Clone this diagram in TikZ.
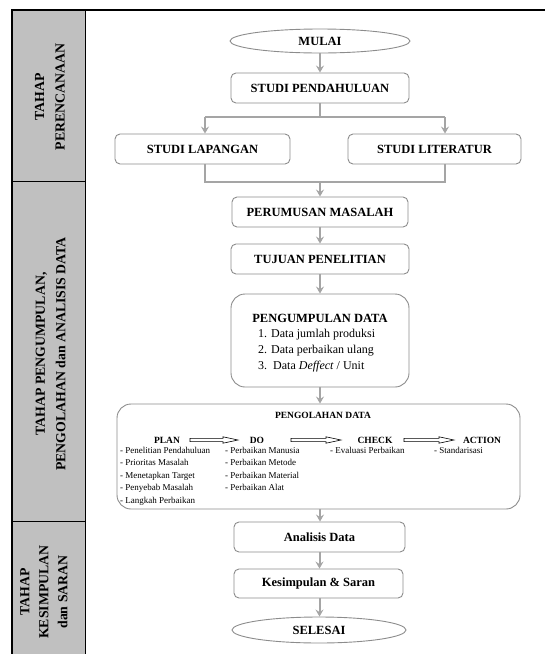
\documentclass[tikz,border=0pt]{standalone}
\usepackage{fontspec}
\setmainfont{Liberation Serif}
\usetikzlibrary{shapes.geometric,arrows.meta,calc}
\definecolor{colgray}{RGB}{192,192,192}
\definecolor{boxgray}{RGB}{140,140,140}
\definecolor{linegray}{RGB}{165,165,165}
\begin{document}
\begin{tikzpicture}[x=1pt,y=-1pt,
  box/.style={draw=boxgray, line width=0.9pt, rounded corners=5pt, minimum height=30pt, inner sep=0pt, fill=white, font=\fontsize{12.5}{15}\selectfont\bfseries},
  bigbox/.style={draw=boxgray, line width=0.9pt, rounded corners=14pt, inner sep=0pt, fill=white},
  oval/.style={ellipse, draw=boxgray, line width=0.9pt, inner sep=0pt, fill=white, font=\fontsize{12.5}{15}\selectfont\bfseries},
  conn/.style={draw=linegray, line width=2pt, -{Stealth[length=7pt,width=8pt,inset=2.5pt]}},
  plainline/.style={draw=linegray, line width=2pt},
  lab/.style={rotate=90, align=center, inner sep=0pt, font=\fontsize{13.8}{20.5}\selectfont\bfseries},
  head/.style={inner sep=0pt, font=\fontsize{9.5}{11}\selectfont\bfseries},
  items/.style={inner sep=0pt, align=left, anchor=north west, font=\fontsize{9}{12.5}\selectfont},
  hollow/.style={draw=black, line width=0.6pt, fill=white}
]
\useasboundingbox (0,0) rectangle (545,654);
% frame and left column
\fill[colgray] (12,10) rectangle (85,656);
\draw[line width=1.2pt] (12,656) -- (12,10) -- (546,10);
\draw[line width=1pt] (85,10) -- (85,656);
\draw[line width=1pt] (12,181) -- (85,181);
\draw[line width=1pt] (12,521) -- (85,521);
\node[lab] (lab1) at (50,97) {TAHAP\\PERENCANAAN};
\node[lab] (lab2) at (50.5,354) {TAHAP PENGUMPULAN,\\PENGOLAHAN dan ANALISIS DATA};
\node[lab, font=\fontsize{13.8}{19}\selectfont\bfseries] (lab3) at (44,592) {TAHAP\\KESIMPULAN\\dan SARAN};

% nodes
\node[oval, minimum width=180pt, minimum height=24pt] (mulai) at (320,41) {MULAI};
\node[box, minimum width=178pt] (sp) at (320,88) {STUDI PENDAHULUAN};
\node[box, minimum width=175pt] (sl) at (202.5,149) {STUDI LAPANGAN};
\node[box, minimum width=173pt] (slit) at (434.5,149) {STUDI LITERATUR};
\node[box, minimum width=176pt] (pm) at (320,212) {PERUMUSAN MASALAH};
\node[box, minimum width=178pt] (tp) at (320,259) {TUJUAN PENELITIAN};
\node[bigbox, minimum width=178pt, minimum height=93pt] (pd) at (320,340.5) {};
\node[inner sep=0pt, font=\fontsize{12.5}{15}\selectfont\bfseries] (pdt) at (320,318) {PENGUMPULAN DATA};
\node[inner sep=0pt, anchor=west, align=left, font=\fontsize{12}{16}\selectfont] (pdl) at (258,351) {1. Data jumlah produksi\\2. Data perbaikan ulang\\3.\ \ Data \textit{Deffect} / Unit};

\node[bigbox, minimum width=403pt, minimum height=105pt] (pg) at (318.5,456.5) {};
\node[head] (pgt) at (323,415) {PENGOLAHAN DATA};
\node[head] (plan) at (167,440) {PLAN};
\node[head] (do) at (257,440) {DO};
\node[head] (check) at (375,440) {CHECK};
\node[head] (action) at (482,440) {ACTION};
\node[items] (planl) at (120,447) {- Penelitian Pendahuluan\\- Prioritas Masalah\\- Menetapkan Target\\- Penyebab Masalah\\- Langkah Perbaikan};
\node[items] (dol) at (225,447) {- Perbaikan Manusia\\- Perbaikan Metode\\- Perbaikan Material\\- Perbaikan Alat};
\node[items] (checkl) at (330,447) {- Evaluasi Perbaikan};
\node[items] (actionl) at (434,447) {- Standarisasi};

\node[box, minimum width=171pt] (ad) at (319.5,537) {Analisis Data};
\node[box, minimum width=169pt, minimum height=29pt] (ks) at (318.5,583.5) {Kesimpulan \& Saran};
\node[oval, minimum width=174pt, minimum height=26pt] (sel) at (319,630) {SELESAI};

% hollow arrows PLAN -> DO -> CHECK -> ACTION
\coordinate (h1a) at (190,440); \coordinate (h1b) at (238,440);
\coordinate (h2a) at (291,440); \coordinate (h2b) at (341,440);
\coordinate (h3a) at (404,440); \coordinate (h3b) at (454,440);
\foreach \a/\b in {h1a/h1b,h2a/h2b,h3a/h3b}{
  \draw[hollow] ($(\a)+(0,-1.6)$) -- ($(\b)+(-15,-1.6)$) -- ($(\b)+(-15,-3.2)$) -- (\b)
    -- ($(\b)+(-15,3.2)$) -- ($(\b)+(-15,1.6)$) -- ($(\a)+(0,1.6)$) -- cycle;
}

% connectors
\coordinate (br) at (320,117);
\coordinate (brL) at (205,117);
\coordinate (brR) at (445,117);
\coordinate (mg) at (320,182);
\draw[conn] (mulai.south) -- (sp.north);
\draw[plainline] (sp.south) -- (br);
\draw[plainline] (brL) -- (brR);
\draw[conn] (brL) -- (brL |- sl.north);
\draw[conn] (brR) -- (brR |- slit.north);
\draw[plainline] (brL |- sl.south) -- (brL |- mg) -- (brR |- mg) -- (brR |- slit.south);
\draw[conn] (mg) -- (pm.north);
\draw[conn] (pm.south) -- (tp.north);
\draw[conn] (tp.south) -- (pd.north);
\draw[conn] (pd.south) -- (pd.south |- pg.north);
\draw[conn] (pd.south |- pg.south) -- (pd.south |- ad.north);
\draw[conn] (ad.south) -- (ad.south |- ks.north);
\draw[conn] (ad.south |- ks.south) -- (ad.south |- sel.north);
\end{tikzpicture}
\end{document}
